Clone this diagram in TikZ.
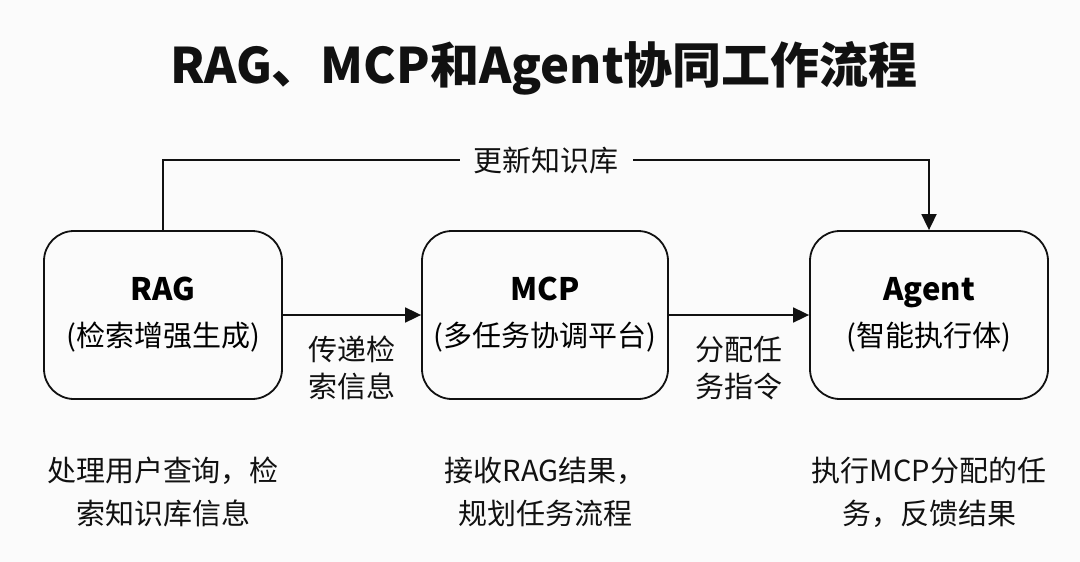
\documentclass[tikz,border=0pt]{standalone}
\usepackage{fontspec}
\setmainfont{Noto Sans CJK SC}
\usetikzlibrary{arrows.meta}
\definecolor{bg}{HTML}{FBFBFB}
\definecolor{ink}{HTML}{111111}
\begin{document}
\begin{tikzpicture}[x=1pt,y=-1pt,
  box/.style={draw=ink,line width=1.8pt,rounded corners=30pt,minimum width=238pt,minimum height=168pt,align=center,inner sep=0pt,font=\fontsize{29}{46}\selectfont},
  arr/.style={draw=ink,line width=1.8pt,-{Triangle[length=16pt,width=15pt]}},
  lbl/.style={align=center,text=ink,font=\fontsize{29}{37}\selectfont},
  desc/.style={align=center,text=ink,font=\fontsize{29}{43}\selectfont},
  ttl/.style={text=ink,font=\fontsize{49}{56}\selectfont\bfseries}]
\fill[bg] (0,0) rectangle (1080,562);
\useasboundingbox (0,0) rectangle (1080,562);
\node[ttl] (title) at (544,68) {RAG、MCP和Agent协同工作流程};
\node[box] (rag) at (163,315) {{\fontsize{31}{36}\selectfont\bfseries RAG}\\(检索增强生成)};
\node[box,minimum width=246pt] (mcp) at (545,315) {{\fontsize{31}{36}\selectfont\bfseries MCP}\\(多任务协调平台)};
\node[box] (agent) at (929,315) {{\fontsize{31}{36}\selectfont\bfseries Agent}\\(智能执行体)};
\draw[arr] (rag) -- (mcp);
\draw[arr] (mcp) -- (agent);
\node[lbl] (l1) at (352,368) {传递检\\索信息};
\node[lbl] (l2) at (739,368) {分配任\\务指令};
\coordinate (tl) at (163,160);
\coordinate (tr) at (929,160);
\draw[arr] (rag.north) -- (tl) -- node[fill=bg,inner xsep=14pt,lbl] (upd) {更新知识库} (tr) -- (agent.north);
\node[desc] (d1) at (163,492) {处理用户查询，检\\索知识库信息};
\node[desc] (d2) at (545,492) {接收RAG结果，\\规划任务流程};
\node[desc] (d3) at (929,492) {执行MCP分配的任\\务，反馈结果};
\end{tikzpicture}
\end{document}
